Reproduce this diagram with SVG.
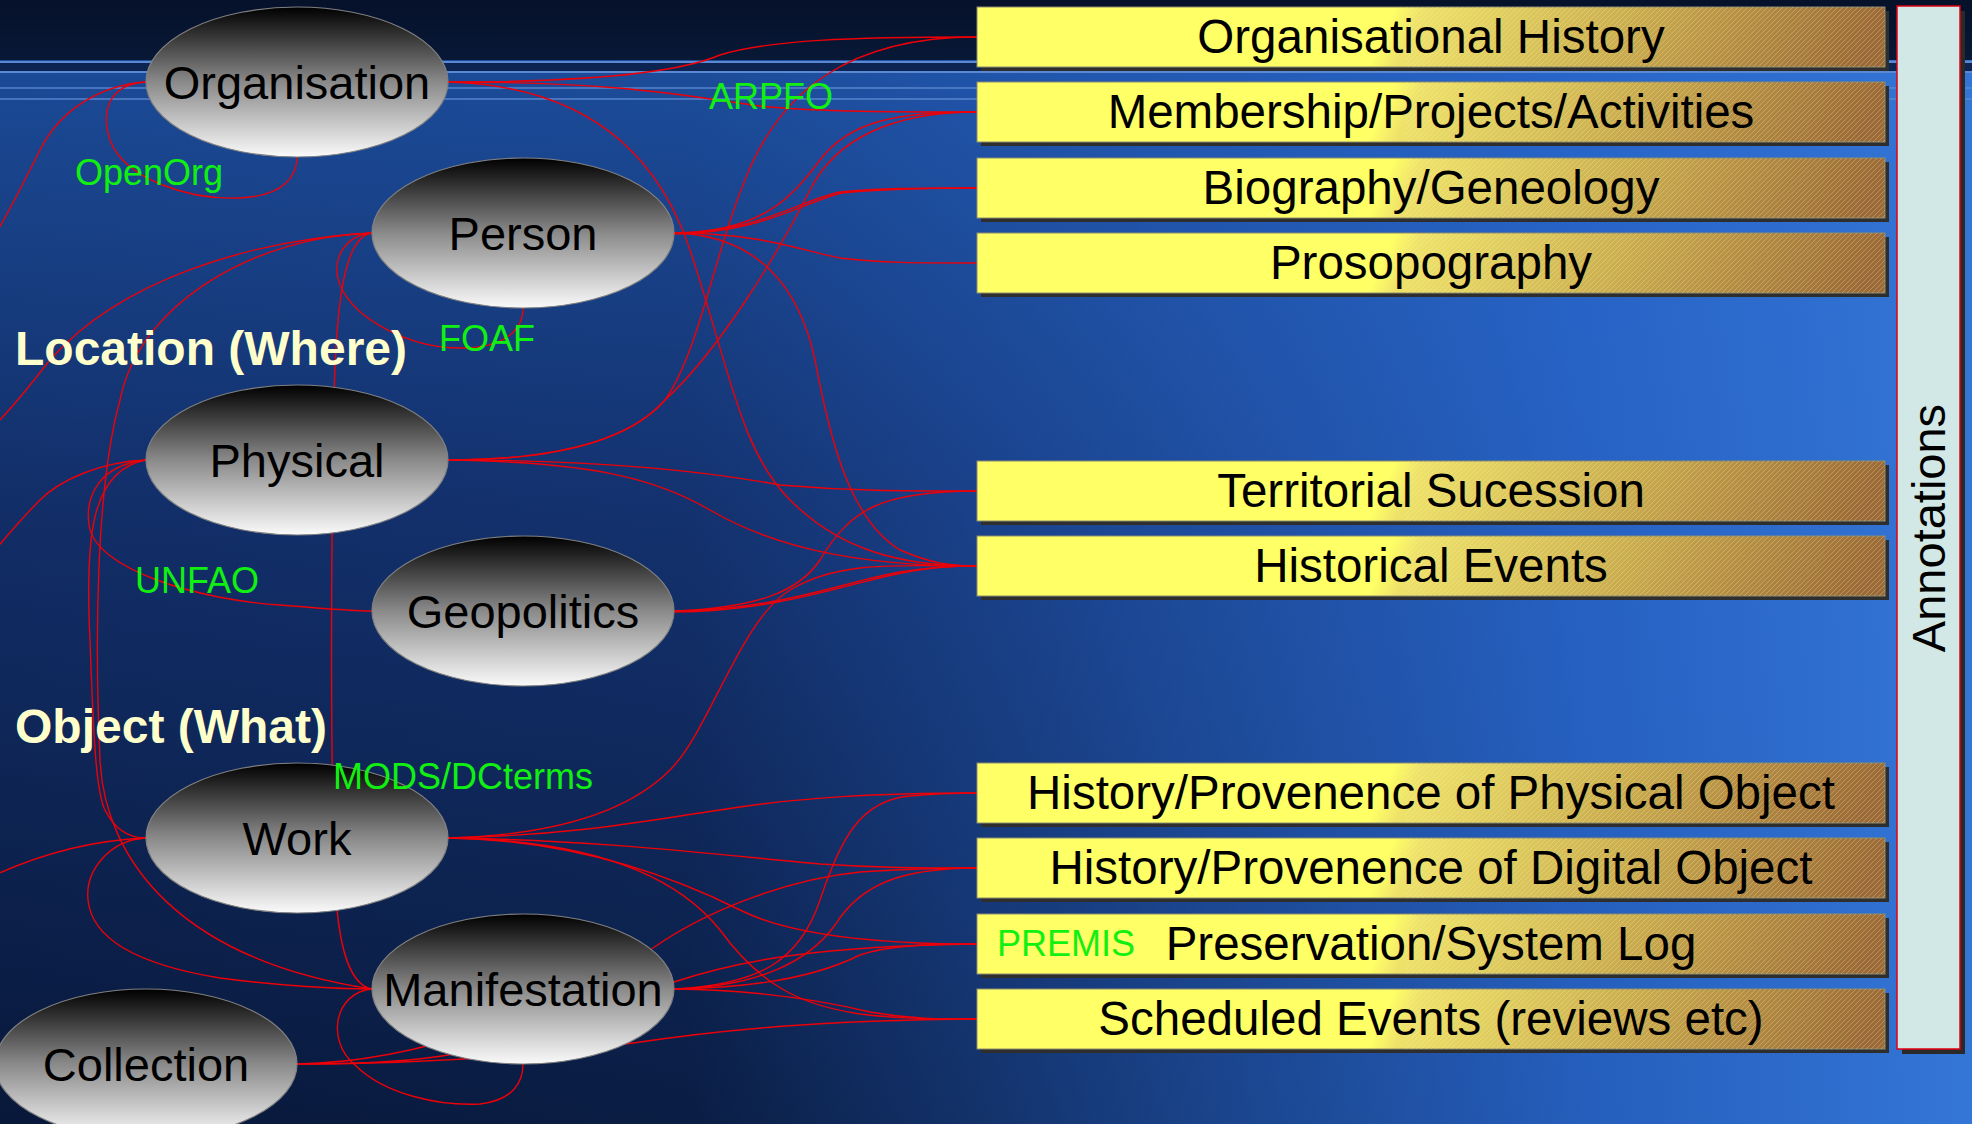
<svg xmlns="http://www.w3.org/2000/svg" width="1972" height="1124" viewBox="0 0 1972 1124">
<defs>
<linearGradient id="bgV" x1="0" y1="0" x2="0" y2="1124" gradientUnits="userSpaceOnUse">
<stop offset="0.06" stop-color="#1b4a96"/>
<stop offset="0.45" stop-color="#122e68"/>
<stop offset="1" stop-color="#08183a"/>
</linearGradient>
<linearGradient id="bgH" x1="0" y1="0" x2="1972" y2="0" gradientUnits="userSpaceOnUse">
<stop offset="0" stop-color="#2a6ad2" stop-opacity="0"/>
<stop offset="0.35" stop-color="#2a6ad2" stop-opacity="0.06"/>
<stop offset="0.6" stop-color="#2a6ad2" stop-opacity="0.5"/>
<stop offset="0.8" stop-color="#2a6ad2" stop-opacity="0.85"/>
<stop offset="1" stop-color="#3476d6" stop-opacity="1"/>
</linearGradient>
<linearGradient id="band" x1="0" y1="0" x2="0" y2="1">
<stop offset="0" stop-color="#06112a"/>
<stop offset="1" stop-color="#081836"/>
</linearGradient>
<linearGradient id="ell" x1="0" y1="0" x2="0" y2="1">
<stop offset="0" stop-color="#000"/>
<stop offset="0.5" stop-color="#8a8a8a"/>
<stop offset="1" stop-color="#fafafa"/>
</linearGradient>
<linearGradient id="boxg" x1="0" y1="0" x2="1" y2="0.03">
<stop offset="0" stop-color="#ffff66"/>
<stop offset="0.46" stop-color="#ffff66"/>
<stop offset="0.49" stop-color="#eee26a"/>
<stop offset="0.72" stop-color="#cbae50"/>
<stop offset="1" stop-color="#9c6a38"/>
</linearGradient>
<pattern id="hatch" width="5" height="5" patternUnits="userSpaceOnUse">
<path d="M0,5 L5,0 M-1,1 L1,-1 M4,6 L6,4" stroke="#fff6b0" stroke-opacity="0.35" stroke-width="0.8"/>
</pattern>
<style>
.node ellipse{fill:url(#ell);stroke:#808080;stroke-width:1.2}
.nt{font-family:"Liberation Sans",Arial,sans-serif;font-size:47px;fill:#000;text-anchor:middle}
.bx{fill:url(#boxg);stroke:#8c8c70;stroke-width:1}
.sh{fill:#2e2e2e}
.ht{fill:url(#hatch)}
.bt{font-family:"Liberation Sans",Arial,sans-serif;font-size:47.5px;fill:#000;text-anchor:middle}
.gl{font-family:"Liberation Sans",Arial,sans-serif;font-size:36px;fill:#11f011}
.hd{font-family:"Liberation Sans",Arial,sans-serif;font-size:48px;font-weight:bold;fill:#ffffcc}
.bl{stroke:#5a88d2;stroke-width:2.2}
</style>
</defs>

<!-- background -->
<rect x="0" y="0" width="1972" height="1124" fill="url(#bgV)"/>
<rect x="0" y="0" width="1972" height="1124" fill="url(#bgH)"/>
<rect x="0" y="0" width="1972" height="60" fill="url(#band)"/>
<rect x="0" y="63" width="1972" height="8" fill="#0c2452"/>
<line class="bl" x1="0" y1="62" x2="1972" y2="62"/>
<line class="bl" x1="0" y1="72" x2="1972" y2="72"/>
<line class="bl" x1="0" y1="88" x2="1972" y2="88" stroke-opacity="0.7"/>
<line class="bl" x1="0" y1="99" x2="1972" y2="99" stroke-opacity="0.7"/>

<g id="connectors" fill="none" stroke="#ee0008" stroke-width="1.4">
<path d="M448,82 C600,82 680,72 720,55 C770,40 850,37 977,37"/>
<path d="M448,82 C620,82 680,95 760,106 C820,112 900,112 977,112"/>
<path d="M448,82 C560,85 650,130 690,250 C730,370 740,450 790,500 C840,550 900,566 977,566"/>
<path d="M146,82 C100,85 60,110 40,150 C25,180 10,210 -5,235"/>
<path d="M146,82 C110,84 100,110 110,140 C125,180 190,200 240,198 C285,196 297,175 297,157"/>
<path d="M372,233 C250,240 120,280 50,360 C30,385 15,405 -5,425"/>
<path d="M372,233 C260,236 140,300 120,400 C95,490 95,650 100,760 C105,860 180,960 372,989"/>
<path d="M372,233 C345,236 336,300 334,400 C331,550 330,750 335,880 C338,950 350,985 372,989"/>
<path d="M372,233 C345,235 330,260 340,285 C355,320 410,348 460,348 C505,348 523,330 523,308"/>
<path d="M674,233 C760,232 790,200 820,160 C850,120 900,112 977,112"/>
<path d="M674,233 C760,232 800,200 840,192 C880,188 920,188 977,188"/>
<path d="M674,234 C762,233 803,202 842,193 C882,189 920,188 977,188"/>
<path d="M674,233 C760,233 800,250 840,258 C880,263 920,263 977,263"/>
<path d="M674,233 C760,235 800,290 815,360 C830,440 850,520 900,550 C930,563 950,566 977,566"/>
<path d="M448,460 C560,460 630,440 665,400 C700,350 715,250 745,180 C780,90 850,37 977,37"/>
<path d="M448,460 C560,460 630,440 665,400 C720,350 780,250 810,190 C835,140 890,112 977,112"/>
<path d="M448,460 C600,460 700,470 780,485 C850,491 900,491 977,491"/>
<path d="M448,460 C580,462 650,475 710,510 C770,545 850,566 977,566"/>
<path d="M146,460 C100,465 85,495 89,525 C95,570 200,600 280,605 C320,608 350,611 372,611"/>
<path d="M146,460 C100,462 60,480 40,500 C20,520 8,535 -5,550"/>
<path d="M146,460 C90,470 85,540 90,640 C93,720 95,790 105,810 C115,830 130,838 146,838"/>
<path d="M674,611 C760,608 800,590 820,560 C850,510 880,491 977,491"/>
<path d="M674,611 C780,610 850,580 900,572 C930,567 950,566 977,566"/>
<path d="M674,612 C782,611 852,582 902,573 C932,567 950,566 977,566"/>
<path d="M448,838 C560,835 630,810 670,770 C710,730 740,620 790,590 C840,560 900,566 977,566"/>
<path d="M448,838 C580,835 650,820 720,810 C800,797 880,793 977,793"/>
<path d="M448,838 C600,840 720,855 820,864 C880,868 920,868 977,868"/>
<path d="M448,838 C580,840 680,880 740,910 C790,935 880,944 977,944"/>
<path d="M448,838 C600,840 680,880 720,930 C760,985 800,1005 860,1014 C900,1019 940,1019 977,1019"/>
<path d="M146,838 C100,840 50,850 -5,875"/>
<path d="M146,838 C110,840 85,870 88,900 C92,940 140,965 220,978 C280,986 340,989 372,989"/>
<path d="M372,989 C335,992 325,1040 355,1065 C385,1095 440,1106 480,1104 C515,1100 523,1080 523,1064"/>
<path d="M674,989 C760,985 800,960 820,900 C840,840 860,800 910,796 C940,793 960,793 977,793"/>
<path d="M674,989 C760,987 810,960 835,925 C860,885 900,868 977,868"/>
<path d="M674,989 C760,988 820,975 860,955 C890,945 930,944 977,944"/>
<path d="M674,989 C760,990 820,1000 870,1012 C910,1019 940,1019 977,1019"/>
<path d="M297,1064 C400,1064 450,1058 520,1040 C600,1015 640,995 674,982 C740,960 820,946 977,944"/>
<path d="M297,1064 C420,1062 560,1010 653,948 C700,915 780,880 860,872 C920,868 950,868 977,868"/>
<path d="M297,1064 C420,1064 540,1055 633,1043 C720,1030 820,1020 977,1019"/>
</g>

<g id="organisation" class="node"><ellipse cx="297" cy="82" rx="151" ry="75"/><text class="nt" x="297" y="99">Organisation</text></g>
<g id="person" class="node"><ellipse cx="523" cy="233" rx="151" ry="75"/><text class="nt" x="523" y="250">Person</text></g>
<g id="physical" class="node"><ellipse cx="297" cy="460" rx="151" ry="75"/><text class="nt" x="297" y="477">Physical</text></g>
<g id="geopolitics" class="node"><ellipse cx="523" cy="611" rx="151" ry="75"/><text class="nt" x="523" y="628">Geopolitics</text></g>
<g id="work" class="node"><ellipse cx="297" cy="838" rx="151" ry="75"/><text class="nt" x="297" y="855">Work</text></g>
<g id="manifestation" class="node"><ellipse cx="523" cy="989" rx="151" ry="75"/><text class="nt" x="523" y="1006">Manifestation</text></g>
<g id="collection" class="node"><ellipse cx="146" cy="1064" rx="151" ry="75"/><text class="nt" x="146" y="1081">Collection</text></g>

<g id="labels">
<text class="hd" x="15" y="365">Location (Where)</text>
<text class="hd" x="15" y="743">Object (What)</text>
<text class="gl" x="75" y="185">OpenOrg</text>
<text class="gl" x="439" y="351">FOAF</text>
<text class="gl" x="709" y="109">ARPFO</text>
<text class="gl" x="135" y="593">UNFAO</text>
<text class="gl" x="333" y="789">MODS/DCterms</text>
</g>

<g id="box-orghist"><rect class="sh" x="981" y="11" width="908" height="60"/><rect class="bx" x="977" y="7" width="908" height="60"/><rect class="ht" x="1405" y="7" width="480" height="60"/><text class="bt" x="1431" y="53">Organisational History</text></g>
<g id="box-membership"><rect class="sh" x="981" y="86" width="908" height="60"/><rect class="bx" x="977" y="82" width="908" height="60"/><rect class="ht" x="1405" y="82" width="480" height="60"/><text class="bt" x="1431" y="128">Membership/Projects/Activities</text></g>
<g id="box-biography"><rect class="sh" x="981" y="162" width="908" height="60"/><rect class="bx" x="977" y="158" width="908" height="60"/><rect class="ht" x="1405" y="158" width="480" height="60"/><text class="bt" x="1431" y="204">Biography/Geneology</text></g>
<g id="box-prosopography"><rect class="sh" x="981" y="237" width="908" height="60"/><rect class="bx" x="977" y="233" width="908" height="60"/><rect class="ht" x="1405" y="233" width="480" height="60"/><text class="bt" x="1431" y="279">Prosopography</text></g>
<g id="box-territorial"><rect class="sh" x="981" y="465" width="908" height="60"/><rect class="bx" x="977" y="461" width="908" height="60"/><rect class="ht" x="1405" y="461" width="480" height="60"/><text class="bt" x="1431" y="507">Territorial Sucession</text></g>
<g id="box-historical"><rect class="sh" x="981" y="540" width="908" height="60"/><rect class="bx" x="977" y="536" width="908" height="60"/><rect class="ht" x="1405" y="536" width="480" height="60"/><text class="bt" x="1431" y="582">Historical Events</text></g>
<g id="box-physobj"><rect class="sh" x="981" y="767" width="908" height="60"/><rect class="bx" x="977" y="763" width="908" height="60"/><rect class="ht" x="1405" y="763" width="480" height="60"/><text class="bt" x="1431" y="809">History/Provenence of Physical Object</text></g>
<g id="box-digobj"><rect class="sh" x="981" y="842" width="908" height="60"/><rect class="bx" x="977" y="838" width="908" height="60"/><rect class="ht" x="1405" y="838" width="480" height="60"/><text class="bt" x="1431" y="884">History/Provenence of Digital Object</text></g>
<g id="box-preservation"><rect class="sh" x="981" y="918" width="908" height="60"/><rect class="bx" x="977" y="914" width="908" height="60"/><rect class="ht" x="1405" y="914" width="480" height="60"/><text class="gl" x="997" y="956">PREMIS</text><text class="bt" x="1431" y="960">Preservation/System Log</text></g>
<g id="box-scheduled"><rect class="sh" x="981" y="993" width="908" height="60"/><rect class="bx" x="977" y="989" width="908" height="60"/><rect class="ht" x="1405" y="989" width="480" height="60"/><text class="bt" x="1431" y="1035">Scheduled Events (reviews etc)</text></g>

<g id="annotations"><rect x="1902" y="11" width="63" height="1043" fill="#2a2a2a"/><rect x="1897" y="6" width="63" height="1043" fill="#d2e8e6" stroke="#e00010" stroke-width="1.5"/><text class="nt" transform="translate(1945,528) rotate(-90)" x="0" y="0">Annotations</text></g>
</svg>
